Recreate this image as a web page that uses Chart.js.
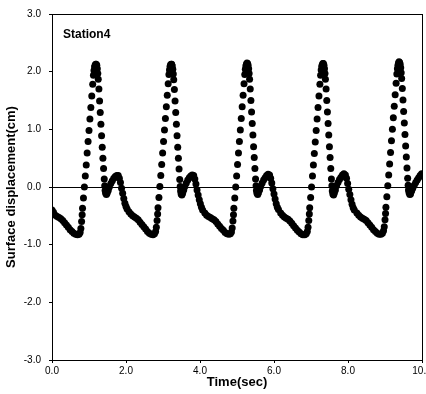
<!DOCTYPE html>
<html>
<head>
<meta charset="utf-8">
<script src="https://cdn.jsdelivr.net/npm/chart.js@4/dist/chart.umd.min.js"></script>
<style>
  html, body { margin: 0; padding: 0; background: #fff; }
  canvas { display: block; }
</style>
</head>
<body>
<canvas id="g1" width="426" height="394"></canvas>
<script>
// wave 1..5, time in sec / surface displacement in cm
const time1 = [0.00,0.04,0.09,0.14,0.19,0.24,0.29,0.34,0.39,0.44,0.49,0.54,0.59,0.64,0.69,0.73,0.76,0.78,0.80,0.815,0.825,
  0.85,0.875,0.90,0.925,0.95,0.975,1.00,1.025,1.05,1.075,1.10,
  1.12,1.135,1.15,1.165,1.18,1.195,1.21,1.225,1.238,
  1.25,1.268,1.286,1.304,1.322,1.34,1.358,1.376,1.394,1.412,
  1.425,1.435,1.45,1.47,1.49,1.52,1.55,1.59,1.63,1.67,1.71,1.75,1.79,1.82,1.85,1.88,1.91,1.94,1.97,2.00,2.03];
const disp1 = [-0.40,-0.44,-0.49,-0.51,-0.53,-0.55,-0.58,-0.62,-0.66,-0.70,-0.74,-0.77,-0.80,-0.82,-0.83,-0.82,-0.79,-0.72,-0.60,-0.48,-0.37,
  -0.19,0.00,0.19,0.38,0.59,0.79,0.98,1.18,1.38,1.58,1.78,
  1.94,2.02,2.08,2.11,2.13,2.13,2.11,2.05,1.97,
  1.87,1.70,1.49,1.29,1.09,0.89,0.69,0.50,0.32,0.14,
  0.02,-0.06,-0.11,-0.13,-0.11,-0.06,0.00,0.06,0.11,0.15,0.18,0.20,0.20,0.15,0.08,-0.02,-0.11,-0.20,-0.28,-0.34,-0.38];

const time2 = [2.08,2.13,2.18,2.23,2.28,2.33,2.38,2.43,2.48,2.53,2.58,2.63,2.68,2.73,2.77,2.80,2.82,2.84,2.855,2.865,
  2.89,2.915,2.94,2.965,2.99,3.015,3.04,3.065,3.09,3.115,3.14,
  3.16,3.175,3.19,3.205,3.22,3.235,3.25,3.265,3.278,
  3.29,3.308,3.326,3.344,3.362,3.38,3.398,3.416,3.434,3.452,
  3.465,3.475,3.49,3.51,3.53,3.56,3.59,3.63,3.67,3.71,3.75,3.79,3.83,3.86,3.89,3.92,3.95,3.98,4.01,4.04,4.07];
const disp2 = [-0.43,-0.47,-0.50,-0.52,-0.54,-0.57,-0.61,-0.65,-0.69,-0.73,-0.77,-0.80,-0.82,-0.83,-0.81,-0.77,-0.70,-0.58,-0.47,-0.36,
  -0.18,0.01,0.20,0.39,0.59,0.79,0.99,1.19,1.39,1.59,1.79,
  1.95,2.03,2.09,2.12,2.13,2.13,2.10,2.04,1.96,
  1.86,1.69,1.49,1.29,1.09,0.89,0.69,0.50,0.31,0.13,
  0.01,-0.07,-0.12,-0.14,-0.11,-0.05,0.01,0.07,0.12,0.16,0.19,0.21,0.20,0.14,0.05,-0.05,-0.14,-0.22,-0.29,-0.35,-0.40];

const time3 = [4.13,4.18,4.23,4.28,4.33,4.38,4.43,4.48,4.53,4.58,4.63,4.68,4.73,4.78,4.82,4.85,4.87,4.89,4.905,4.915,
  4.94,4.965,4.99,5.015,5.04,5.065,5.09,5.115,5.14,5.165,5.19,
  5.21,5.225,5.24,5.255,5.27,5.285,5.30,5.315,5.328,
  5.34,5.358,5.376,5.394,5.412,5.43,5.448,5.466,5.484,5.502,
  5.515,5.525,5.54,5.56,5.58,5.61,5.64,5.68,5.72,5.76,5.80,5.84,5.88,5.91,5.94,5.97,6.00,6.03,6.06,6.09,6.12];
const disp3 = [-0.45,-0.49,-0.51,-0.53,-0.55,-0.57,-0.60,-0.64,-0.68,-0.72,-0.75,-0.79,-0.81,-0.82,-0.81,-0.78,-0.71,-0.59,-0.48,-0.37,
  -0.19,0.00,0.19,0.39,0.59,0.79,0.99,1.19,1.39,1.59,1.79,
  1.95,2.04,2.10,2.13,2.15,2.14,2.11,2.05,1.97,
  1.87,1.70,1.50,1.30,1.10,0.90,0.70,0.51,0.32,0.14,
  0.02,-0.06,-0.11,-0.13,-0.10,-0.05,0.01,0.07,0.12,0.16,0.20,0.22,0.21,0.15,0.07,-0.03,-0.12,-0.21,-0.29,-0.35,-0.39];

const time4 = [6.18,6.23,6.28,6.33,6.38,6.43,6.48,6.53,6.58,6.63,6.68,6.73,6.78,6.83,6.87,6.90,6.92,6.94,6.955,6.965,
  6.99,7.015,7.04,7.065,7.09,7.115,7.14,7.165,7.19,7.215,7.24,
  7.26,7.275,7.29,7.305,7.32,7.335,7.35,7.365,7.378,
  7.39,7.408,7.426,7.444,7.462,7.48,7.498,7.516,7.534,7.552,
  7.565,7.575,7.59,7.61,7.63,7.66,7.69,7.73,7.77,7.81,7.85,7.89,7.93,7.96,7.99,8.02,8.05,8.08,8.11,8.14,8.17];
const disp4 = [-0.45,-0.49,-0.52,-0.54,-0.56,-0.59,-0.63,-0.67,-0.71,-0.75,-0.78,-0.81,-0.83,-0.83,-0.81,-0.77,-0.70,-0.58,-0.47,-0.36,
  -0.18,0.00,0.19,0.38,0.58,0.78,0.98,1.18,1.38,1.58,1.78,
  1.94,2.03,2.09,2.12,2.14,2.14,2.11,2.05,1.97,
  1.87,1.70,1.50,1.30,1.10,0.90,0.70,0.51,0.32,0.14,
  0.02,-0.07,-0.12,-0.14,-0.11,-0.05,0.02,0.08,0.13,0.17,0.21,0.23,0.21,0.15,0.06,-0.04,-0.13,-0.22,-0.30,-0.36,-0.40];

const time5 = [8.24,8.29,8.34,8.39,8.44,8.49,8.54,8.59,8.64,8.69,8.74,8.79,8.84,8.89,8.93,8.96,8.98,9.00,9.015,9.025,
  9.05,9.075,9.10,9.125,9.15,9.175,9.20,9.225,9.25,9.275,9.30,
  9.32,9.335,9.35,9.365,9.38,9.395,9.41,9.425,9.438,
  9.45,9.468,9.486,9.504,9.522,9.54,9.558,9.576,9.594,9.612,
  9.625,9.635,9.65,9.67,9.69,9.72,9.75,9.79,9.83,9.87,9.91,9.95,9.99];
const disp5 = [-0.45,-0.49,-0.52,-0.54,-0.56,-0.58,-0.62,-0.66,-0.70,-0.74,-0.77,-0.80,-0.82,-0.82,-0.80,-0.76,-0.69,-0.57,-0.46,-0.35,
  -0.17,0.02,0.21,0.40,0.60,0.80,1.00,1.20,1.40,1.60,1.80,
  1.96,2.05,2.11,2.15,2.17,2.16,2.13,2.07,1.98,
  1.88,1.71,1.51,1.31,1.11,0.91,0.71,0.52,0.33,0.15,
  0.03,-0.05,-0.10,-0.13,-0.12,-0.07,-0.02,0.03,0.08,0.12,0.16,0.20,0.23];

const xTicks = [0, 2, 4, 6, 8, 10];
const yTicks = [-3, -2, -1, 0, 1, 2, 3];
const stationName = "Station4";

const times = [time1, time2, time3, time4, time5];
const disps = [disp1, disp2, disp3, disp4, disp5];
const points = [];
times.forEach((tt, i) => {
  tt.forEach((t, j) => {
    if (j < disps[i].length) points.push({ x: t, y: disps[i][j] });
  });
});

const tickFont = { family: "'Liberation Sans Narrow', 'Liberation Sans', Arial, sans-serif", size: 10 };
const titleFont = { family: "'Liberation Sans', Arial, sans-serif", size: 13, weight: "bold" };

const stationLabel = {
  id: "stationLabel",
  afterDraw(chart) {
    const { ctx, chartArea } = chart;
    ctx.save();
    ctx.font = "bold 12px 'Liberation Sans', Arial, sans-serif";
    ctx.fillStyle = "#000";
    ctx.textBaseline = "middle";
    ctx.fillText(stationName, chartArea.left + 11, chartArea.top + 21);
    ctx.restore();
  },
};

new Chart(document.getElementById("g1"), {
  type: "scatter",
  data: {
    datasets: [
      {
        data: points,
        pointRadius: 3.5,
        pointBackgroundColor: "#000",
        pointBorderWidth: 0,
        showLine: false,
      },
    ],
  },
  options: {
    responsive: false,
    animation: false,
    devicePixelRatio: 1,
    layout: { padding: { top: 12, right: 4, left: 0, bottom: 0 } },
    plugins: { legend: { display: false }, tooltip: { enabled: false } },
    scales: {
      x: {
        type: "linear",
        min: 0,
        max: 10,
        afterBuildTicks: (s) => { s.ticks = xTicks.map((v) => ({ value: v })); },
        afterFit: (s) => { s.height = 34; s.paddingRight = 0; s.paddingLeft = 0; },
        ticks: {
          color: "#000",
          font: tickFont,
          padding: 2,
          maxRotation: 0,
          callback: (v) => v.toFixed(1),
        },
        grid: {
          color: (c) => (c.tick && c.tick.value === 10 ? "#000" : "rgba(0,0,0,0)"),
          tickColor: "#000",
          tickLength: 3,
          lineWidth: 1,
        },
        border: { display: true, color: "#000", width: 1 },
        title: { display: true, text: "Time(sec)", color: "#000", font: titleFont, padding: { top: 0, bottom: 4 } },
      },
      y: {
        type: "linear",
        min: -3,
        max: 3,
        afterBuildTicks: (s) => { s.ticks = yTicks.map((v) => ({ value: v })); },
        afterFit: (s) => { s.width = 52; },
        ticks: {
          color: "#000",
          font: tickFont,
          padding: 8,
          callback: (v) => v.toFixed(1),
        },
        grid: {
          color: (c) => (c.tick && (c.tick.value === 0 || c.tick.value === 3) ? "#000" : "rgba(0,0,0,0)"),
          tickColor: "#000",
          tickLength: 3,
          lineWidth: 1,
        },
        border: { display: true, color: "#000", width: 1 },
        title: { display: true, text: "Surface displacement(cm)", color: "#000", font: titleFont, padding: { top: 4, bottom: 0 } },
      },
    },
  },
  plugins: [stationLabel],
});
</script>
</body>
</html>
